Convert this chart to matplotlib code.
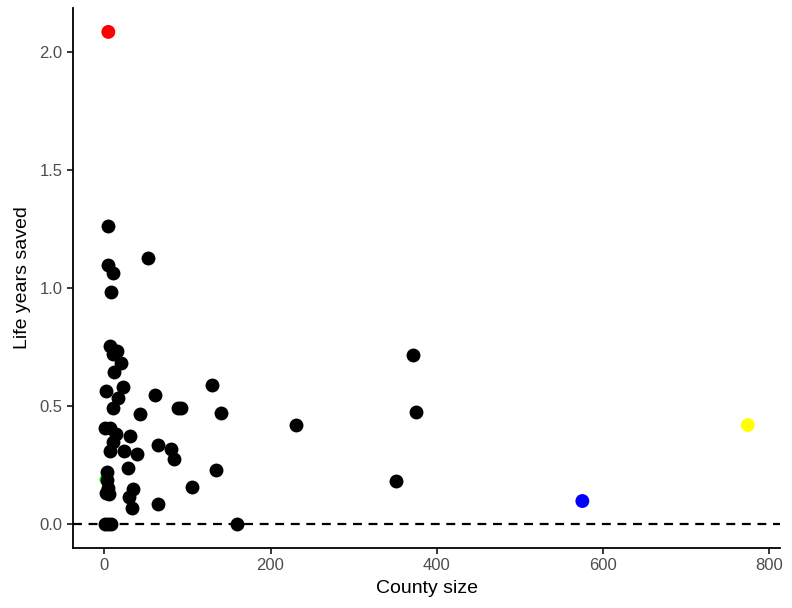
import numpy as np
import matplotlib
matplotlib.use("Agg")
import matplotlib.pyplot as plt

plt.rcParams['font.family'] = ['Liberation Sans', 'DejaVu Sans']

# counties: size vs life years saved
county_size = [
    5, 53, 5, 11, 8,
    7, 15, 20, 12, 10,
    130, 2, 22, 17, 11,
    61, 89, 92, 140, 43,
    1, 7, 14, 31, 10, 7, 24, 39,
    65, 80, 84, 29,
    3, 3, 4, 2, 6,
    35, 30, 34,
    106, 134, 65,
    1, 4, 8, 160,
    371, 375, 231, 351,
]
life_years = [
    1.263, 1.127, 1.097, 1.064, 0.983,
    0.755, 0.733, 0.680, 0.644, 0.72,
    0.589, 0.565, 0.579, 0.534, 0.490,
    0.547, 0.490, 0.490, 0.468, 0.466,
    0.407, 0.405, 0.38, 0.373, 0.349, 0.307, 0.307, 0.296,
    0.334, 0.317, 0.275, 0.237,
    0.221, 0.186, 0.151, 0.131, 0.125,
    0.147, 0.116, 0.066,
    0.157, 0.229, 0.085,
    0.0, 0.0, 0.0, 0.0,
    0.716, 0.475, 0.42, 0.182,
]

# highlighted counties
hl_size = [2.5, 5, 575, 774]
hl_years = [0.19, 2.085, 0.097, 0.419]
hl_colors = ['#00ff00', 'red', 'blue', 'yellow']

fig = plt.figure(figsize=(7.92, 6.08), dpi=100)
ax = fig.add_axes([0.0922, 0.0987, 0.893, 0.888])

ax.scatter(hl_size[:1], hl_years[:1], s=100, c=hl_colors[:1], zorder=2, linewidths=0)
ax.scatter(county_size, life_years, s=100, c='black', zorder=3, linewidths=0)
ax.scatter(hl_size[1:], hl_years[1:], s=100, c=hl_colors[1:], zorder=3, linewidths=0)
ax.axhline(0, color='black', linestyle=(0, (4, 3)), linewidth=1.6, zorder=4)

ax.set_xlim(-37.5, 813)
ax.set_ylim(-0.102, 2.186)
ax.set_xticks([0, 200, 400, 600, 800])
ax.set_yticks([0.0, 0.5, 1.0, 1.5, 2.0])
ax.set_yticklabels(['0.0', '0.5', '1.0', '1.5', '2.0'])

for side in ['top', 'right']:
    ax.spines[side].set_visible(False)
for side in ['left', 'bottom']:
    ax.spines[side].set_linewidth(1.3)
ax.tick_params(direction='out', length=4, width=1.1, colors='black',
               labelcolor='#4d4d4d', labelsize=12)

ax.set_xlabel('County size', fontsize=14, labelpad=5)
ax.set_ylabel('Life years saved', fontsize=14, labelpad=6)

fig.savefig('out.png', dpi=100)
